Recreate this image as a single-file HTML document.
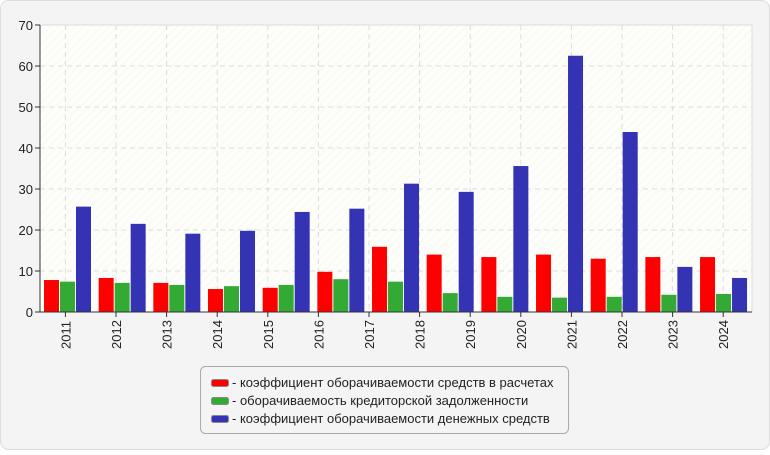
<!DOCTYPE html><html><head><style>body{margin:0;background:#fff}</style></head><body>
<svg width="770" height="450" xmlns="http://www.w3.org/2000/svg" font-family="Liberation Sans, sans-serif">
<defs><pattern id="h" width="6" height="6" patternUnits="userSpaceOnUse" patternTransform="rotate(45)"><rect width="6" height="6" fill="#fdfdfa"/><line x1="0" y1="0" x2="0" y2="6" stroke="#f2f2ee" stroke-width="1"/></pattern></defs>
<rect x="0.5" y="0.5" width="769" height="449" rx="8" fill="#f4f4f4" stroke="#ddd"/>
<rect x="40" y="25" width="712" height="287" fill="url(#h)"/>
<g stroke="#ddd" stroke-dasharray="5,4">
<line x1="40" x2="752" y1="66" y2="66"/><line x1="40" x2="752" y1="107" y2="107"/><line x1="40" x2="752" y1="148" y2="148"/><line x1="40" x2="752" y1="189" y2="189"/><line x1="40" x2="752" y1="230" y2="230"/><line x1="40" x2="752" y1="271" y2="271"/>
</g>
<g id="vg" stroke="#ddd" stroke-dasharray="5,4"></g>
<g id="bars"></g>
<line x1="40" y1="25" x2="752" y2="25" stroke="#ddd"/>
<line x1="752" y1="25" x2="752" y2="312" stroke="#ddd"/>
<line x1="40" y1="25" x2="40" y2="312" stroke="#333"/>
<line x1="40" y1="312" x2="752" y2="312" stroke="#333"/>
<g font-size="13" fill="#222" text-anchor="end">
<text x="33" y="30">70</text><text x="33" y="71">60</text><text x="33" y="112">50</text><text x="33" y="153">40</text><text x="33" y="194">30</text><text x="33" y="235">20</text><text x="33" y="276">10</text><text x="33" y="317">0</text>
</g>
<g id="xl" font-size="13" fill="#222"></g>
<g id="yt" stroke="#333"><line x1="35" x2="40" y1="25" y2="25"/><line x1="35" x2="40" y1="66" y2="66"/><line x1="35" x2="40" y1="107" y2="107"/><line x1="35" x2="40" y1="148" y2="148"/><line x1="35" x2="40" y1="189" y2="189"/><line x1="35" x2="40" y1="230" y2="230"/><line x1="35" x2="40" y1="271" y2="271"/><line x1="35" x2="40" y1="312" y2="312"/></g>
<rect x="200.5" y="366.5" width="368" height="67" rx="5" fill="#f4f4f4" stroke="#aaa"/>
<rect x="211.5" y="379.5" width="17" height="7" rx="2" fill="#ff0000" stroke="#888"/>
<rect x="211.5" y="397.5" width="17" height="7" rx="2" fill="#33aa33" stroke="#888"/>
<rect x="211.5" y="415.5" width="17" height="7" rx="2" fill="#3333b3" stroke="#888"/>
<g font-size="13" fill="#222">
<text x="232" y="387">- коэффициент оборачиваемости средств в расчетах</text>
<text x="232" y="405">- оборачиваемость кредиторской задолженности</text>
<text x="232" y="423">- коэффициент оборачиваемости денежных средств</text>
</g>
</svg>
<script>
var ns="http://www.w3.org/2000/svg";
function el(p,t,a,txt){var e=document.createElementNS(ns,t);for(var k in a)e.setAttribute(k,a[k]);if(txt)e.textContent=txt;document.getElementById(p).appendChild(e);}
var r=[7.8,8.3,7.1,5.6,5.9,9.8,15.9,14.0,13.4,14.0,13.0,13.4,13.4];
var g=[7.4,7.1,6.6,6.3,6.6,8.0,7.4,4.6,3.7,3.5,3.7,4.2,4.4];
var b=[25.7,21.5,19.1,19.8,24.4,25.2,31.3,29.3,35.6,62.5,43.9,11.0,8.3];
var c=["#ff0000","#33aa33","#3333b3"];
for(var i=0;i<13;i++){var x=44+54.67*i;[r,g,b].forEach(function(s,j){var h=s[i]*4.1;el("bars","rect",{x:x+j*16,y:312-h,width:15,height:h,fill:c[j]});});}
for(var i=0;i<14;i++){var x=65.4+50.6*i;el("vg","line",{x1:x,x2:x,y1:25,y2:312});el("yt","line",{x1:x,x2:x,y1:312,y2:317});
el("xl","text",{transform:"translate("+(x+5)+",349) rotate(-90)"},String(2011+i));}
</script>
</body></html>
